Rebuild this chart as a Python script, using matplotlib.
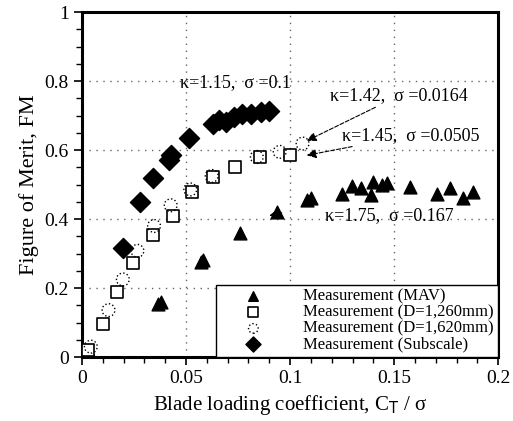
import matplotlib.pyplot as plt
from matplotlib.ticker import MultipleLocator

plt.rcParams['font.family'] = ['Liberation Serif', 'DejaVu Serif']

# MAV measurement
mav_x = [0.002, 0.004, 0.0365, 0.0378, 0.057, 0.058, 0.076, 0.0936, 0.108, 0.110,
         0.125, 0.1297, 0.134, 0.139, 0.140, 0.144, 0.1468, 0.1577, 0.1705, 0.177, 0.183, 0.188]
mav_y = [0.01, 0.008, 0.155, 0.160, 0.276, 0.281, 0.360, 0.422, 0.455, 0.460,
         0.474, 0.496, 0.489, 0.470, 0.508, 0.499, 0.505, 0.492, 0.474, 0.489, 0.460, 0.479]

# D=1,260mm
sq_x = [0.003, 0.0101, 0.0167, 0.0247, 0.034, 0.0436, 0.053, 0.063, 0.0736, 0.0856, 0.100]
sq_y = [0.02, 0.097, 0.189, 0.274, 0.355, 0.410, 0.479, 0.523, 0.550, 0.581, 0.586]

# D=1,620mm
ci_x = [0.0042, 0.0127, 0.0196, 0.0266, 0.0346, 0.0426, 0.052, 0.0623, 0.084, 0.095, 0.106]
ci_y = [0.030, 0.136, 0.225, 0.308, 0.380, 0.440, 0.486, 0.525, 0.580, 0.595, 0.619]

# Subscale
sub_x = [0.0197, 0.028, 0.0343, 0.042, 0.0426, 0.0516, 0.063, 0.066, 0.069, 0.073,
         0.077, 0.081, 0.086, 0.090]
sub_y = [0.316, 0.450, 0.518, 0.571, 0.586, 0.636, 0.677, 0.687, 0.682, 0.697,
         0.704, 0.706, 0.711, 0.714]

labels = ['Measurement (MAV)', 'Measurement (D=1,260mm)',
          'Measurement (D=1,620mm)', 'Measurement (Subscale)']

fig = plt.figure(figsize=(5.13, 4.21), dpi=100)
ax = fig.add_axes([0.16, 0.152, 0.811, 0.819])

ax.scatter(mav_x, mav_y, marker='^', s=85, c='black', label=labels[0], zorder=3)
ax.scatter(sq_x, sq_y, marker='s', s=85, facecolors='white', edgecolors='black',
           linewidths=1.2, label=labels[1], zorder=3)
ax.scatter(ci_x, ci_y, marker='o', s=85, facecolors='none', edgecolors='black',
           linewidths=1.0, linestyles=':', label=labels[2], zorder=3)
ax.scatter(sub_x, sub_y, marker='D', s=105, c='black', label=labels[3], zorder=3)

ax.set_xlim(0, 0.2)
ax.set_ylim(0, 1)
ax.xaxis.set_major_locator(MultipleLocator(0.05))
ax.xaxis.set_minor_locator(MultipleLocator(0.01))
ax.yaxis.set_major_locator(MultipleLocator(0.2))
ax.yaxis.set_minor_locator(MultipleLocator(0.05))
ax.xaxis.set_major_formatter(plt.FuncFormatter(lambda v, p: '%g' % round(v, 3)))
ax.yaxis.set_major_formatter(plt.FuncFormatter(lambda v, p: '%g' % round(v, 2)))
ax.tick_params(which='major', direction='out', length=6, width=1.2, labelsize=14)
ax.tick_params(which='minor', direction='out', length=4, width=1.0)
for s in ax.spines.values():
    s.set_linewidth(2.2)
ax.grid(True, which='major', linestyle=(0, (1, 4)), color='#666666', linewidth=1.0)

ax.set_xlabel(r'Blade loading coefficient, C$_{\rm T}$ / σ', fontsize=15)
ax.set_ylabel('Figure of Merit, FM', fontsize=16)

leg = ax.legend(loc='lower right', borderaxespad=0, fancybox=False, fontsize=12,
                handletextpad=1.0, labelspacing=0.0, borderpad=0.25,
                markerscale=0.75, handlelength=4.0)
leg.get_frame().set_edgecolor('black')
leg.get_frame().set_linewidth(1.0)
leg.get_frame().set_alpha(1)

arrow = dict(arrowstyle='-|>', linestyle='--', color='black', lw=0.8,
             mutation_scale=14, shrinkA=0, shrinkB=0)
ax.text(0.047, 0.795, 'κ=1.15,  σ =0.1', fontsize=13, ha='left', va='center')
ax.annotate('κ=1.42,  σ =0.0164', xy=(0.108, 0.627), xytext=(0.119, 0.757),
            fontsize=13, ha='left', va='center', arrowprops=arrow)
ax.annotate('κ=1.45,  σ =0.0505', xy=(0.108, 0.585), xytext=(0.125, 0.643),
            fontsize=13, ha='left', va='center', arrowprops=arrow)
ax.text(0.117, 0.41, 'κ=1.75,  σ =0.167', fontsize=13, ha='left', va='center')
ax.annotate('', xy=(0.090, 0.410), xytext=(0.096, 0.418),
            arrowprops=dict(arrowstyle='-|>', color='black', lw=0.8,
                            mutation_scale=16, shrinkA=0, shrinkB=0))

fig.savefig('out.png', dpi=100)
